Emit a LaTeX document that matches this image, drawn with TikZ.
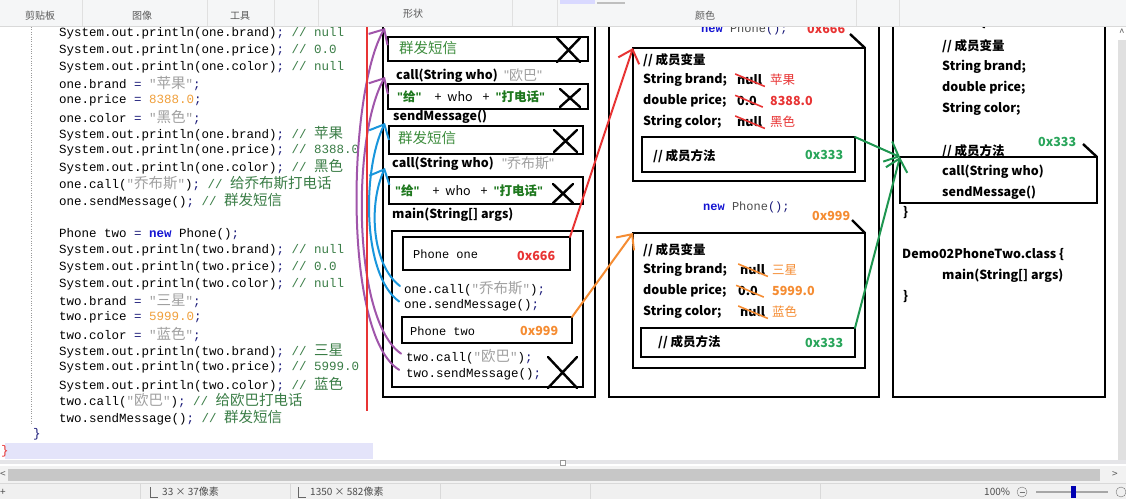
\documentclass[tikz,border=0pt]{standalone}
\usepackage{fontspec}
\setmainfont{Noto Sans CJK SC}
\setmonofont{Liberation Mono}
\newfontfamily\cjkcode{Noto Sans CJK SC}[Scale=1.16]
\newfontfamily\qfont{Liberation Sans}
\usetikzlibrary{arrows.meta,positioning}

\definecolor{jcomment}{RGB}{58,125,70}
\definecolor{jstring}{RGB}{160,160,160}
\definecolor{jnum}{RGB}{240,160,60}
\definecolor{jkw}{RGB}{20,20,210}
\definecolor{jpunct}{RGB}{25,25,120}
\definecolor{hred}{RGB}{232,52,52}
\definecolor{horange}{RGB}{245,140,50}
\definecolor{hgreen}{RGB}{40,165,90}
\definecolor{agreen}{RGB}{30,150,80}
\definecolor{apurple}{RGB}{160,85,170}
\definecolor{ablue}{RGB}{25,150,220}
\definecolor{fgreen}{RGB}{30,120,30}
\definecolor{mgreen}{RGB}{60,140,60}
\definecolor{barbg}{RGB}{245,246,247}
\definecolor{lav}{RGB}{228,228,250}

\newcommand\zh[1]{{\cjkcode #1}}
\newcommand\dq{{\qfont"}}
\newcommand\jcm[1]{\textcolor{jcomment}{#1}}
\newcommand\jstr[1]{\textcolor{jstring}{"\zh{#1}"}}
\newcommand\jnum[1]{\textcolor{jnum}{#1}}
\newcommand\jkw[1]{\textcolor{jkw}{\bfseries #1}}
\newcommand\semi{\textcolor{jpunct}{;}}
\newcommand\eq{\textcolor{jpunct}{=}}

\begin{document}
\begin{tikzpicture}[x=1pt, y=-1pt,
    box/.style={draw, line width=2.4pt, inner sep=0pt, outer sep=0pt, anchor=north west},
    lbl/.style={anchor=west, inner sep=0pt, font=\bfseries\fontsize{12.5}{14}\selectfont},
    code/.style={anchor=west, inner sep=0pt, font=\ttfamily\fontsize{12.5}{14}\selectfont},
    mono/.style={anchor=west, inner sep=0pt, font=\ttfamily\fontsize{12}{14}\selectfont},
    msg/.style={anchor=west, inner sep=0pt, text=mgreen, font=\fontsize{14.5}{16}\selectfont},
    gstr/.style={anchor=west, inner sep=0pt, text=jstring, font=\fontsize{14}{16}\selectfont},
    val/.style={anchor=west, inner sep=0pt, font=\fontsize{12.5}{14}\selectfont},
    tool/.style={inner sep=0pt, text=black!65, font=\fontsize{10}{12}\selectfont},
    stat/.style={anchor=west, inner sep=0pt, text=black!70, font=\fontsize{10}{12}\selectfont},
    cross/.style={line width=2.4pt, line cap=round},
    strike/.style={line width=1.6pt, shorten <=-2pt, shorten >=-3pt},
    hand/.style={line width=2pt, line cap=round, -{Straight Barb[length=12pt, width=22pt]}}
]
\useasboundingbox (0,0) rectangle (1126,499);
\fill[white] (0,0) rectangle (1126,499);

% code on the left
\draw[dotted, black!40] (31,27) -- (31,424);
\fill[lav] (5,443) rectangle (373,459);
\foreach \ln [count=\i from 0] in {
    {System.out.println(one.brand)\semi{} \jcm{// null}},
    {System.out.println(one.price)\semi{} \jcm{// 0.0}},
    {System.out.println(one.color)\semi{} \jcm{// null}},
    {one.brand \eq{} \jstr{苹果}\semi},
    {one.price \eq{} \jnum{8388.0}\semi},
    {one.color \eq{} \jstr{黑色}\semi},
    {System.out.println(one.brand)\semi{} \jcm{// \zh{苹果}}},
    {System.out.println(one.price)\semi{} \jcm{// 8388.0}},
    {System.out.println(one.color)\semi{} \jcm{// \zh{黑色}}},
    {one.call(\jstr{乔布斯})\semi{} \jcm{// \zh{给乔布斯打电话}}},
    {one.sendMessage()\semi{} \jcm{// \zh{群发短信}}},
    {},
    {Phone two \eq{} \jkw{new} Phone()\semi},
    {System.out.println(two.brand)\semi{} \jcm{// null}},
    {System.out.println(two.price)\semi{} \jcm{// 0.0}},
    {System.out.println(two.color)\semi{} \jcm{// null}},
    {two.brand \eq{} \jstr{三星}\semi},
    {two.price \eq{} \jnum{5999.0}\semi},
    {two.color \eq{} \jstr{蓝色}\semi},
    {System.out.println(two.brand)\semi{} \jcm{// \zh{三星}}},
    {System.out.println(two.price)\semi{} \jcm{// 5999.0}},
    {System.out.println(two.color)\semi{} \jcm{// \zh{蓝色}}},
    {two.call(\jstr{欧巴})\semi{} \jcm{// \zh{给欧巴打电话}}},
    {two.sendMessage()\semi{} \jcm{// \zh{群发短信}}}}
{
    \node[code] (line\i) at (59,{33.5+16.7*\i}) {\ln};
}
\node[code, text=jpunct] (endmain) at (33,434) {\}};
\node[code, text=hred] (endclass) at (1,451) {\}};

% stack
\node[box, minimum width=212pt, minimum height=392pt] (stack) at (383,5) {};
\node[box, minimum width=200pt, minimum height=24pt] (sendB) at (388,37) {};
\node[box, minimum width=200pt, minimum height=25pt] (callB) at (388,84) {};
\node[box, minimum width=194pt, minimum height=28pt] (sendA) at (389,126) {};
\node[box, minimum width=194pt, minimum height=27pt] (callA) at (389,177) {};
\node[box, minimum width=191pt, minimum height=156pt] (mainf) at (392,231) {};
\node[box, minimum width=167pt, minimum height=33pt] (refone) at (403,237) {};
\node[box, minimum width=170pt, minimum height=26pt] (reftwo) at (402,317) {};

\node[lbl] (sendBlbl) at (395,21) {sendMessage()};
\node[msg] (sendBtxt) at (399,48) {群发短信};
\node[lbl] (callBlbl) at (396,76) {call(String who)};
\node[gstr] (callBarg) at (504,75) {\dq 欧巴\dq};
\node[lbl] (callBtxt) at (397,97) {\textcolor{fgreen}{\dq 给\dq}\hspace{13pt}{\mdseries +\hspace{6pt}who\hspace{10pt}+}\hspace{6pt}\textcolor{fgreen}{\dq 打电话\dq}};
\node[lbl] (sendAlbl) at (393,117) {sendMessage()};
\node[msg] (sendAtxt) at (398,138) {群发短信};
\node[lbl] (callAlbl) at (392,164) {call(String who)};
\node[gstr] (callAarg) at (502,163) {\dq 乔布斯\dq};
\node[lbl] (callAtxt) at (395,191) {\textcolor{fgreen}{\dq 给\dq}\hspace{13pt}{\mdseries +\hspace{6pt}who\hspace{10pt}+}\hspace{6pt}\textcolor{fgreen}{\dq 打电话\dq}};
\node[lbl] (mainlbl) at (392,215) {main(String[] args)};

\node[mono] (onename) at (413,254) {Phone one};
\node[lbl, text=hred] (oneaddr) at (517,256) {0x666};
\node[code] (onecall) at (404,289) {one.call(\jstr{乔布斯})\semi};
\node[code] (onesend) at (404,305) {one.sendMessage()\semi};
\node[mono] (twoname) at (410,331) {Phone two};
\node[lbl, text=horange] (twoaddr) at (520,331) {0x999};
\node[code] (twocall) at (406,357) {two.call(\jstr{欧巴})\semi};
\node[code] (twosend) at (406,374) {two.sendMessage()\semi};

\foreach \cx/\cy/\w/\h in {568.5/50/11.5/12, 570/98/10/9, 565.5/141/11.5/11, 563/193.5/10/9.5, 562.5/372.5/14.5/15.5} {
    \draw[cross] ({\cx-\w},{\cy-\h}) -- ({\cx+\w},{\cy+\h}) ({\cx-\w},{\cy+\h}) -- ({\cx+\w},{\cy-\h});
}

% heap
\node[box, minimum width=270pt, minimum height=392pt] (heap) at (609,5) {};
\node[mono] (newone) at (701,29) {\jkw{new} \textcolor{black!70}{Phone}\textcolor{jpunct}{();}};
\node[lbl, text=hred] (objoneaddr) at (807,29) {0x666};
\node[box, minimum width=232pt, minimum height=133pt] (objone) at (633,48) {};
\coordinate (tagone) at (850,34);
\draw[line width=2.4pt] (tagone) -- (objone.north east);
\node[lbl] (varsone) at (643,60) {// 成员变量};
\node[lbl] (brandone) at (643,80) {String brand;};
\node[lbl] (priceone) at (643,101) {double price;};
\node[lbl] (colorone) at (643,122) {String color;};
\node[lbl] (nullbone) at (737,80) {null};
\node[lbl] (zeroone) at (737,101) {0.0};
\node[lbl] (nullcone) at (737,122) {null};
\node[val, text=hred] (brandvone) at (770,80) {苹果};
\node[lbl, text=hred] (pricevone) at (770,101) {8388.0};
\node[val, text=hred] (colorvone) at (770,122) {黑色};
\draw[strike, hred] (nullbone.north west) -- (nullbone.south east);
\draw[strike, hred] (zeroone.north west) -- ([xshift=3pt]zeroone.south east);
\draw[strike, hred] (nullcone.north west) -- (nullcone.south east);
\node[box, minimum width=213pt, minimum height=35pt] (mthone) at (642,137) {};
\node[lbl] (mthonelbl) at (653,156) {// 成员方法};
\node[lbl, text=hgreen] (mthoneaddr) at (805,155) {0x333};

\node[mono] (newtwo) at (703,207) {\jkw{new} \textcolor{black!70}{Phone}\textcolor{jpunct}{();}};
\node[lbl, text=horange] (objtwoaddr) at (812,216) {0x999};
\node[box, minimum width=232pt, minimum height=135pt] (objtwo) at (633,233) {};
\coordinate (tagtwo) at (852,220);
\draw[line width=2.4pt] (tagtwo) -- (objtwo.north east);
\node[lbl] (varstwo) at (643,250) {// 成员变量};
\node[lbl] (brandtwo) at (643,270) {String brand;};
\node[lbl] (pricetwo) at (643,291) {double price;};
\node[lbl] (colortwo) at (643,312) {String color;};
\node[lbl] (nullbtwo) at (740,270) {null};
\node[lbl] (zerotwo) at (738,291) {0.0};
\node[lbl] (nullctwo) at (740,312) {null};
\node[val, text=horange] (brandvtwo) at (772,270) {三星};
\node[lbl, text=horange] (pricevtwo) at (772,291) {5999.0};
\node[val, text=horange] (colorvtwo) at (772,312) {蓝色};
\draw[strike, horange] (nullbtwo.north west) -- (nullbtwo.south east);
\draw[strike, horange] (zerotwo.north west) -- ([xshift=3pt]zerotwo.south east);
\draw[strike, horange] (nullctwo.north west) -- (nullctwo.south east);
\node[box, minimum width=214pt, minimum height=29pt] (mthtwo) at (641,328) {};
\node[lbl] (mthtwolbl) at (658,342) {// 成员方法};
\node[lbl, text=hgreen] (mthtwoaddr) at (805,343) {0x333};

% method area
\node[box, minimum width=212pt, minimum height=392pt] (area) at (893,5) {};
\node[lbl] (phonecls) at (902,23) {Phone.class \{};
\node[lbl] (clsvars) at (942,46) {// 成员变量};
\node[lbl] (clsbrand) at (942,67) {String brand;};
\node[lbl] (clsprice) at (942,88) {double price;};
\node[lbl] (clscolor) at (942,109) {String color;};
\node[lbl] (clsmths) at (942,151) {// 成员方法};
\node[lbl, text=hgreen] (clsaddr) at (1038,142) {0x333};
\node[box, minimum width=197pt, minimum height=46pt] (mthcls) at (900,157) {};
\coordinate (tagcls) at (1083,144);
\draw[line width=2.4pt] (tagcls) -- (mthcls.north east);
\node[lbl] (clscall) at (942,172) {call(String who)};
\node[lbl] (clssend) at (942,193) {sendMessage()};
\node[lbl] (clsend) at (903,213) {\}};
\node[lbl] (democls) at (902,255) {Demo02PhoneTwo.class \{};
\node[lbl] (demomain) at (942,276) {main(String[] args)};
\node[lbl] (demoend) at (903,297) {\}};

% arrows
\draw[hand, hred] (refone.north east) -- (objone.north west);
\draw[hand, horange] (reftwo.north east) -- (objtwo.north west);
\draw[hand, agreen] (mthone.north east) -- (mthcls.north west);
\draw[hand, agreen] (mthtwo.north east) -- (mthcls.north west);

\coordinate (tipsendB) at (385,28);
\coordinate (tipcallB) at (385,77);
\coordinate (tipsendA) at (385,123);
\coordinate (tipcallA) at (385,168);
\draw[hand, ablue, shorten <=5pt] (onecall.west) .. controls (372,265) and (368,205) .. (tipcallA);
\draw[hand, ablue, shorten <=6pt] (onesend.west) .. controls (362,275) and (362,170) .. (tipsendA);
\draw[hand, apurple, shorten <=6pt] (twocall.west) .. controls (352,320) and (352,135) .. (tipcallB);
\draw[hand, apurple, shorten <=8pt] (twosend.west) .. controls (342,335) and (348,90) .. (tipsendB);

\draw[hred, line width=2pt] (367,27) -- (367,411);

% paint window around the canvas
\fill[barbg] (0,0) rectangle (1126,26);
\draw[black!15] (0,26.5) -- (1126,26.5);
\fill[blue!15] (560,0) rectangle (595,4);
\draw[black!25, line width=1.5pt] (597,3) -- (625,3);
\foreach \sx in {82,207,274,318,512,557,856,899} {
    \draw[black!12] (\sx,0) -- (\sx,26);
}
\node[tool] (clipbd) at (40,16) {剪贴板};
\node[tool] (imgtool) at (142,16) {图像};
\node[tool] (tools) at (240,16) {工具};
\node[tool] (shapes) at (413,14) {形状};
\node[tool] (colors) at (705,16) {颜色};

\fill[black!12] (1118,40) rectangle (1126,460);
\node[tool] (scrollup) at (1122,33) {\^{}};

\fill[blue!8!black!10] (0,460) rectangle (1126,464);
\fill[white] (560,460) rectangle (565,465);
\draw[black!40] (560,460) rectangle (565,465);
\fill[black!5] (0,466) rectangle (1126,483);
\fill[black!22] (8,469) rectangle (1100,481);
\node[tool] (scrollleft) at (3,475) {\textless};
\node[tool] (scrollright) at (1115,475) {\textgreater};
\fill[black!6] (0,483) rectangle (1126,499);
\draw[black!15] (0,483.5) -- (1126,483.5);
\foreach \sx in {140,290,440,590,820} {
    \draw[black!15] (\sx,484) -- (\sx,499);
}
\node[stat] (movecur) at (0,492) {+};
\draw[black!60] (150,487) -- (150,497) -- (158,497);
\node[stat] (selsize) at (162,492) {33 × 37像素};
\draw[black!60] (298,487) -- (298,497) -- (306,497);
\node[stat] (imgsize) at (310,492) {1350 × 582像素};
\node[stat] (zoompct) at (984,492) {100\%};
\draw[black!55] (1022,492) circle (5);
\draw[black!55] (1019.5,492) -- (1024.5,492);
\draw[black!35, line width=1.5pt] (1036,492) -- (1108,492);
\fill[blue!70!black] (1071,486) rectangle (1076,498);
\draw[black!55] (1121,492) circle (5);
\end{tikzpicture}
\end{document}
